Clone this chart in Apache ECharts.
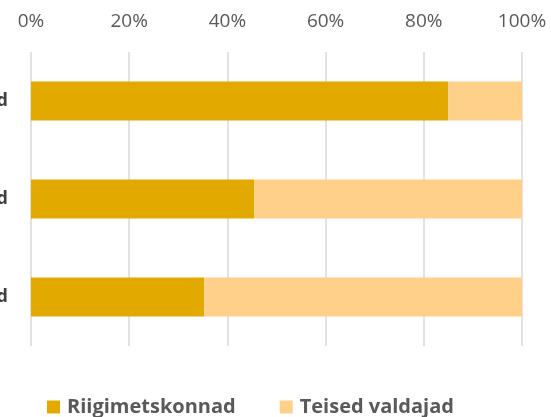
<!DOCTYPE html>
<html>
<head>
<meta charset="utf-8">
<script src="https://cdn.jsdelivr.net/npm/echarts@6/dist/echarts.min.js"></script>
<style>
  html, body { margin: 0; padding: 0; background: #fff; }
  #chart { width: 551px; height: 417px; }
</style>
</head>
<body>
<div id="chart"></div>
<script>
// categories (only the last letter is visible in the original, labels run off the left edge)
const categories = ['Riigimetsad', 'Kaitsealad', 'Metsamaad'];
const seriesNames = ['Riigimetskonnad', 'Teised valdajad'];
const riigimetskonnad = [85, 45.5, 35.3];
const teisedValdajad = [15, 54.5, 64.7];
const tickLabels = ['0%', '20%', '40%', '60%', '80%', '100%'];

const chart = echarts.init(document.getElementById('chart'));

chart.setOption({
  animation: false,
  textStyle: { fontFamily: 'Open Sans' },
  grid: { left: 31, right: 29, top: 52, height: 294, containLabel: false, outerBoundsMode: 'none' },
  legend: {
    data: seriesNames,
    top: 392,
    left: 42,
    itemWidth: 13,
    itemHeight: 13,
    itemGap: 44,
    icon: 'rect',
    textStyle: { fontSize: 20, fontWeight: 'bold', color: '#595959', fontFamily: 'Open Sans', padding: [0, 0, 0, 2] }
  },
  xAxis: {
    type: 'value',
    position: 'top',
    min: 0,
    max: 100,
    interval: 20,
    axisLine: { show: false },
    axisTick: { show: false },
    splitLine: { lineStyle: { color: '#d9d9d9', width: 1.5 } },
    axisLabel: {
      margin: 21,
      fontSize: 19,
      color: '#595959',
      formatter: function (v) { return tickLabels[v / 20]; }
    }
  },
  yAxis: {
    type: 'category',
    inverse: true,
    data: categories,
    axisLine: { show: false },
    axisTick: { show: false },
    axisLabel: {
      margin: 23,
      fontSize: 18,
      fontWeight: 'bold',
      color: '#404040'
    }
  },
  series: [
    {
      name: seriesNames[0],
      type: 'bar',
      stack: 'total',
      barWidth: 39,
      itemStyle: { color: '#E2AA00' },
      data: riigimetskonnad
    },
    {
      name: seriesNames[1],
      type: 'bar',
      stack: 'total',
      barWidth: 39,
      itemStyle: { color: '#FFD08A' },
      data: teisedValdajad
    }
  ]
});
</script>
</body>
</html>
